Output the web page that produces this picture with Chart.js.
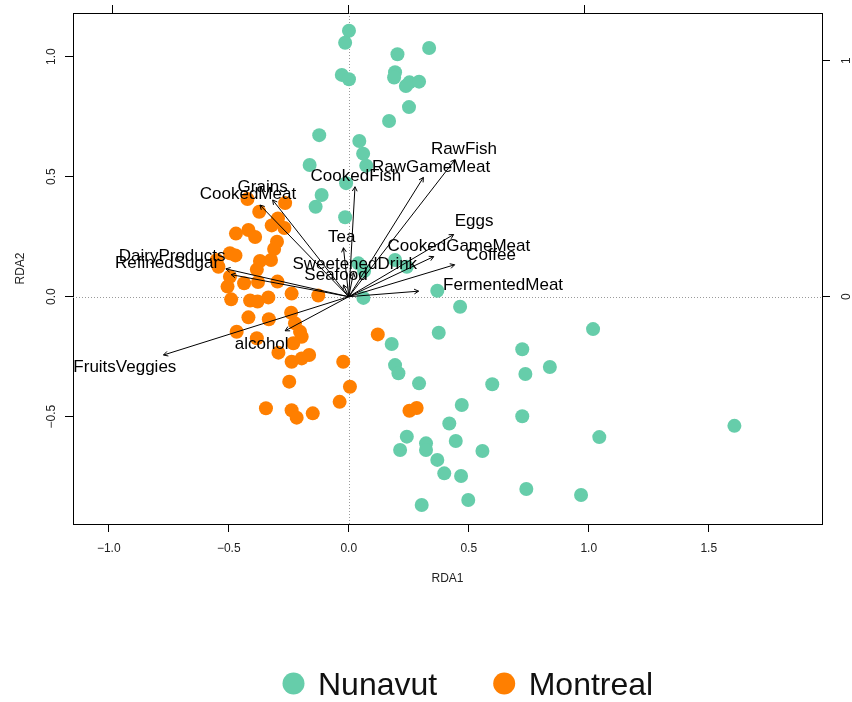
<!DOCTYPE html>
<html>
<head>
<meta charset="utf-8">
<script src="https://cdn.jsdelivr.net/npm/chart.js@4.4.1/dist/chart.umd.min.js"></script>
<style>
  body { margin: 0; background: #fff; }
  canvas { display: block; }
</style>
</head>
<body>
<canvas id="rda" width="852" height="702"></canvas>
<script>
const FONT = '"Liberation Sans", Arial, Helvetica, sans-serif';

// site scores (RDA1, RDA2)
const nunavutX = [0.001, -0.015, 0.335, 0.203, 0.193, 0.189, -0.029, 0.001, 0.253, 0.238, 0.293, 0.251, 0.168, -0.123, 0.044, 0.060, -0.163, 0.073, -0.011, -0.113, -0.138, -0.015, 0.040, 0.064, 0.193, 0.242, 0.061, 0.369, 0.464, 0.375, 0.179, 0.193, 0.207, 0.293, 0.598, 0.471, 0.419, 0.242, 0.214, 0.322, 0.322, 0.446, 0.557, 0.369, 0.398, 0.468, 0.498, 0.304, 1.018, 0.723, 0.838, 0.736, 0.723, 1.044, 1.607, 0.740, 0.968];
const nunavutY = [1.108, 1.058, 1.036, 1.010, 0.935, 0.913, 0.924, 0.906, 0.893, 0.878, 0.896, 0.790, 0.732, 0.673, 0.649, 0.596, 0.549, 0.546, 0.473, 0.424, 0.375, 0.331, 0.139, 0.107, 0.153, 0.125, -0.005, 0.025, -0.042, -0.150, -0.197, -0.285, -0.319, -0.361, -0.365, -0.451, -0.528, -0.583, -0.639, -0.611, -0.639, -0.601, -0.643, -0.680, -0.736, -0.747, -0.847, -0.868, -0.135, -0.219, -0.293, -0.322, -0.498, -0.585, -0.538, -0.801, -0.826];

const montrealX = [-0.422, -0.265, -0.373, -0.295, -0.321, -0.268, -0.470, -0.418, -0.390, -0.299, -0.311, -0.495, -0.472, -0.550, -0.543, -0.370, -0.324, -0.383, -0.495, -0.436, -0.378, -0.297, -0.505, -0.238, -0.127, -0.490, -0.411, -0.380, -0.335, -0.418, -0.333, -0.240, -0.224, -0.467, -0.383, -0.203, -0.196, -0.231, -0.293, -0.238, -0.196, -0.165, -0.023, 0.121, 0.005, -0.248, -0.038, -0.345, -0.238, -0.217, -0.150, 0.253, 0.283];
const montrealY = [0.407, 0.390, 0.354, 0.326, 0.297, 0.286, 0.263, 0.278, 0.249, 0.229, 0.199, 0.181, 0.172, 0.153, 0.125, 0.149, 0.153, 0.113, 0.083, 0.056, 0.061, 0.063, 0.042, 0.013, 0.005, -0.011, -0.016, -0.020, -0.003, -0.086, -0.094, -0.067, -0.111, -0.146, -0.173, -0.146, -0.167, -0.194, -0.233, -0.271, -0.257, -0.243, -0.271, -0.157, -0.375, -0.354, -0.438, -0.465, -0.473, -0.504, -0.486, -0.475, -0.464];

// food variables: arrow tips and label spots
const species = ["RawFish", "RawGameMeat", "CookedFish", "Grains", "CookedMeat", "Eggs", "CookedGameMeat", "Coffee", "Tea", "SweetenedDrink", "Seafood", "DairyProducts", "RefinedSugar", "FermentedMeat", "FruitsVeggies", "alcohol"];
const arrowX = [0.443, 0.311, 0.026, -0.317, -0.370, 0.437, 0.354, 0.441, -0.022, 0.020, -0.022, -0.512, -0.490, 0.291, -0.772, -0.265];
const arrowY = [0.571, 0.497, 0.458, 0.403, 0.382, 0.259, 0.167, 0.133, 0.204, 0.100, 0.049, 0.116, 0.092, 0.023, -0.243, -0.142];
const labelX = [0.480, 0.343, 0.030, -0.359, -0.420, 0.522, 0.459, 0.593, -0.029, 0.025, -0.053, -0.736, -0.757, 0.643, -0.933, -0.363];
const labelY = [0.621, 0.545, 0.507, 0.463, 0.433, 0.320, 0.215, 0.178, 0.254, 0.142, 0.095, 0.174, 0.143, 0.053, -0.289, -0.194];

const rda1Ticks = [-1.0, -0.5, 0.0, 0.5, 1.0, 1.5];
const rda2Ticks = [-0.5, 0.0, 0.5, 1.0];
const topTicks = [-1, 0, 1];
const rightTicks = [0, 1];

const groups = ["Nunavut", "Montreal"];
const groupColors = ["#66CDAA", "#FF7F00"];

const fmt = v => v.toFixed(1).replace("-", "\u2212");
const pts = (xs, ys) => xs.map((x, i) => ({ x, y: ys[i] }));
const setTicks = list => s => { s.ticks = list.map(v => ({ value: v })); };

const arrowSets = species.map((name, i) => ({
    label: name,
    data: [{ x: 0, y: 0 }, { x: arrowX[i], y: arrowY[i] }],
    showLine: true,
    borderColor: "#000",
    borderWidth: 1,
    pointRadius: 0,
    order: 1
}));

const decor = {
    id: "decor",
    beforeDatasetsDraw(chart) {
        const { ctx, chartArea: a, scales: { x, y } } = chart;
        const x0 = Math.round(x.getPixelForValue(0)) + 0.5;
        const y0 = Math.round(y.getPixelForValue(0)) + 0.5;
        ctx.save();
        ctx.strokeStyle = "#9a9a9a";
        ctx.lineWidth = 1;
        ctx.setLineDash([1, 2]);
        ctx.beginPath();
        ctx.moveTo(a.left, y0); ctx.lineTo(a.right, y0);
        ctx.moveTo(x0, a.top); ctx.lineTo(x0, a.bottom);
        ctx.stroke();
        ctx.restore();
    },
    afterDatasetsDraw(chart) {
        const { ctx, scales: { x, y } } = chart;
        const ox = x.getPixelForValue(0), oy = y.getPixelForValue(0);
        ctx.save();
        ctx.strokeStyle = "#000";
        ctx.lineWidth = 1;
        species.forEach((name, i) => {
            const tx = x.getPixelForValue(arrowX[i]);
            const ty = y.getPixelForValue(arrowY[i]);
            const ang = Math.atan2(ty - oy, tx - ox);
            ctx.beginPath();
            ctx.moveTo(tx - 5 * Math.cos(ang - 0.5), ty - 5 * Math.sin(ang - 0.5));
            ctx.lineTo(tx, ty);
            ctx.lineTo(tx - 5 * Math.cos(ang + 0.5), ty - 5 * Math.sin(ang + 0.5));
            ctx.stroke();
        });
        ctx.fillStyle = "#000";
        ctx.font = "17px " + FONT;
        ctx.textAlign = "center";
        ctx.textBaseline = "alphabetic";
        species.forEach((name, i) => {
            ctx.fillText(name, x.getPixelForValue(labelX[i]), y.getPixelForValue(labelY[i]) + 6);
        });
        ctx.restore();
    },
    afterDraw(chart) {
        const { ctx, chartArea: a, scales: { y, y2 } } = chart;
        ctx.save();
        ctx.fillStyle = "#222";
        ctx.font = "12px " + FONT;
        ctx.textAlign = "center";
        ctx.textBaseline = "alphabetic";
        const vlabel = (text, cx, cy) => {
            ctx.save();
            ctx.translate(cx + 4.3, cy);
            ctx.rotate(-Math.PI / 2);
            ctx.fillText(text, 0, 0);
            ctx.restore();
        };
        rda2Ticks.forEach(v => vlabel(fmt(v), a.left - 22, y.getPixelForValue(v)));
        rightTicks.forEach(v => vlabel(String(v), a.right + 24, y2.getPixelForValue(v)));
        vlabel("RDA2", 20, (a.top + a.bottom) / 2);
        ctx.fillText("RDA1", (a.left + a.right) / 2, 581.5);

        // legend
        ctx.font = "32px " + FONT;
        ctx.textAlign = "left";
        let lx = 282.5;
        groups.forEach((g, i) => {
            ctx.fillStyle = groupColors[i];
            ctx.beginPath();
            ctx.arc(lx + 11, 683.5, 11, 0, Math.PI * 2);
            ctx.fill();
            ctx.fillStyle = "#111";
            ctx.fillText(g, lx + 35.5, 695);
            lx += 35.5 + ctx.measureText(g).width + 56;
        });
        ctx.restore();
    }
};

const axisBorder = { display: true, color: "#000", width: 1 };

new Chart(document.getElementById("rda"), {
    type: "scatter",
    data: {
        datasets: [
            ...arrowSets,
            {
                label: groups[0],
                data: pts(nunavutX, nunavutY),
                pointRadius: 7,
                pointBorderWidth: 0,
                pointBackgroundColor: groupColors[0],
                backgroundColor: groupColors[0],
                order: 2
            },
            {
                label: groups[1],
                data: pts(montrealX, montrealY),
                pointRadius: 7,
                pointBorderWidth: 0,
                pointBackgroundColor: groupColors[1],
                backgroundColor: groupColors[1],
                order: 3
            }
        ]
    },
    options: {
        responsive: false,
        animation: false,
        events: [],
        layout: { padding: 0, autoPadding: false },
        plugins: { legend: { display: false }, tooltip: { enabled: false } },
        scales: {
            x: {
                type: "linear", position: "bottom",
                min: -1.149, max: 1.972,
                afterBuildTicks: setTicks(rda1Ticks),
                afterFit: s => { s.height = 178; },
                border: axisBorder,
                grid: { drawOnChartArea: false, tickLength: 8, tickColor: "#000" },
                ticks: { color: "#222", font: { family: FONT, size: 12 }, padding: 9, maxRotation: 0, callback: v => fmt(v) }
            },
            x2: {
                type: "linear", position: "top",
                min: -1.168, max: 2.0055,
                afterBuildTicks: setTicks(topTicks),
                afterFit: s => { s.height = 13; },
                border: axisBorder,
                grid: { drawOnChartArea: false, tickLength: 8, tickColor: "#000" },
                ticks: { display: false }
            },
            y: {
                type: "linear", position: "left",
                min: -0.947, max: 1.182,
                afterBuildTicks: setTicks(rda2Ticks),
                afterFit: s => { s.width = 73; },
                border: axisBorder,
                grid: { drawOnChartArea: false, tickLength: 8, tickColor: "#000" },
                ticks: { display: false }
            },
            y2: {
                type: "linear", position: "right",
                min: -0.963, max: 1.202,
                afterBuildTicks: setTicks(rightTicks),
                afterFit: s => { s.width = 30; },
                border: axisBorder,
                grid: { drawOnChartArea: false, tickLength: 8, tickColor: "#000" },
                ticks: { display: false }
            }
        }
    },
    plugins: [decor]
});
</script>
</body>
</html>
